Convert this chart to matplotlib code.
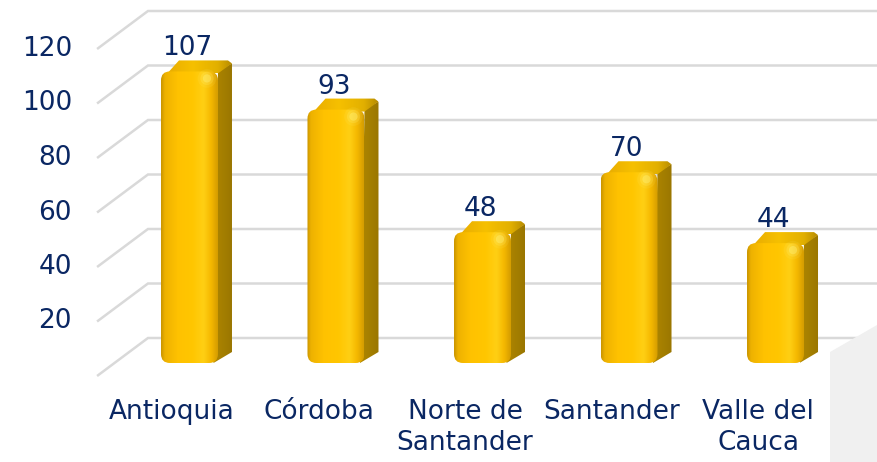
import matplotlib
matplotlib.use("Agg")
import numpy as np
import matplotlib.pyplot as plt
from matplotlib.patches import FancyBboxPatch, Polygon
from matplotlib.colors import LinearSegmentedColormap

# ---------------- data ----------------
categories = ["Antioquia", "Córdoba", "Norte de\nSantander", "Santander", "Valle del\nCauca"]
values = [107, 93, 48, 70, 44]
tick_values = [20, 40, 60, 80, 100, 120]
grid_values = [0, 20, 40, 60, 80, 100, 120]

# ---------------- style / layout ----------------
W, H = 877, 462
TEXT = "#0a2763"
GRID = "#d9d9d9"
FS = 19

plt.rcParams["font.family"] = ["DejaVu Sans"]

fig = plt.figure(figsize=(W / 100, H / 100), dpi=100)
fig.patch.set_facecolor("white")

ax_left_px, ax_bottom_px, ax_w_px, ax_h_px = 79.6, 99, 797, 327
ax = fig.add_axes([ax_left_px / W, ax_bottom_px / H, ax_w_px / W, ax_h_px / H])
XLIM = (-0.75, 4.69)
YLIM = (0, 120)
sx = ax_w_px / (XLIM[1] - XLIM[0])   # px per category unit
sy = ax_h_px / (YLIM[1] - YLIM[0])   # px per value unit


def off(dx_px, dy_px):
    return dx_px / sx, dy_px / sy


bar_depth = off(14, 11)
back = off(33.5, 25)
front = off(-17.4, -13)
wall_left = -0.512
bw = 57 / sx
r = 9 / sx

# decorative grey shape (bottom right)
shape = Polygon([(830 / W, 1 - 352 / H), (877 / W, 1 - 325 / H), (877 / W, 0), (830 / W, 0)],
                closed=True, transform=fig.transFigure, facecolor="#f0f0f0",
                edgecolor="none", zorder=0)
fig.patches.append(shape)

# gridlines (back wall + left side diagonals)
for g in grid_values:
    xb, yb = wall_left + back[0], g + back[1]
    xf, yf = wall_left + front[0], g + front[1]
    ax.plot([xf, xb, 6], [yf, yb, yb], color=GRID, lw=1.8, clip_on=False,
            zorder=1, solid_capstyle="butt", solid_joinstyle="miter")

# tick labels (front plane)
for t in tick_values:
    ax.text(wall_left + front[0] - 25 / sx, t + front[1], str(t), ha="right", va="center",
            fontsize=FS, color=TEXT)

front_cmap = LinearSegmentedColormap.from_list(
    "front", [(0.0, "#c99400"), (0.07, "#eeb200"), (0.3, "#ffc200"), (0.55, "#ffc600"),
              (0.75, "#ffcf14"), (0.88, "#f5b800"), (1.0, "#d49c00")])
top_cmap = LinearSegmentedColormap.from_list(
    "top", [(0.0, "#e6a800"), (0.45, "#f6c000"), (0.8, "#e2b000"), (1.0, "#b88c00")])
side_cmap = LinearSegmentedColormap.from_list(
    "side", [(0.0, "#b08800"), (1.0, "#9a7600")])
grad = np.linspace(0, 1, 256).reshape(1, -1)

for i, v in enumerate(values):
    x0, x1 = i - bw / 2, i + bw / 2
    dx, dy = bar_depth

    # side face
    side = Polygon([(x1 - 0.5 * r, 0), (x1 + dx, dy), (x1 + dx, v + dy - 3 / sy),
                    (x1, v)], closed=True,
                   facecolor="none", edgecolor="none", clip_on=False)
    ax.add_patch(side)
    im = ax.imshow(grad, extent=(x1 - 0.5 * r, x1 + dx, 0, v + dy), cmap=side_cmap,
                   aspect="auto", interpolation="bicubic", zorder=2)
    im.set_clip_path(side)

    # top face
    top = Polygon([(x0 + 0.7 * r, v - 2 / sy), (x1, v - 2 / sy), (x1 + dx, v + dy - 3 / sy),
                   (x1 + dx - 4 / sx, v + dy), (x0 + dx + 4 / sx, v + dy)],
                  closed=True, facecolor="none", edgecolor="none", clip_on=False)
    ax.add_patch(top)
    im = ax.imshow(grad, extent=(x0, x1 + dx, v - 2 / sy, v + dy), cmap=top_cmap,
                   aspect="auto", interpolation="bicubic", zorder=2)
    im.set_clip_path(top)

    # front face
    fr = FancyBboxPatch((x0, 0), bw, v, boxstyle=f"round,pad=0,rounding_size={r}",
                        mutation_aspect=sx / sy, facecolor="none", edgecolor="none",
                        clip_on=False)
    ax.add_patch(fr)
    im = ax.imshow(grad, extent=(x0, x1, 0, v), cmap=front_cmap,
                   aspect="auto", interpolation="bicubic", zorder=3)
    im.set_clip_path(fr)

    # highlight glow near front top-right corner
    hx, hy = i + bw / 2 - 11 / sx, v - 7 / sy
    for s, a in [(180, 0.10), (90, 0.20), (35, 0.40)]:
        ax.scatter([hx], [hy], s=s, color="#fff27a", alpha=a, edgecolors="none",
                   zorder=4, clip_on=False)

    # value label
    ax.text(i - 2 / sx, v + 10 / sy, str(v), ha="center", va="bottom",
            fontsize=FS, color=TEXT, zorder=5)

    # category label
    ax.text(i + front[0], -36 / sy, categories[i], ha="center", va="top",
            fontsize=FS, color=TEXT, linespacing=1.25, multialignment="center")

ax.set_xlim(*XLIM)
ax.set_ylim(*YLIM)
ax.axis("off")

fig.savefig("out.png", dpi=100, facecolor="white")
